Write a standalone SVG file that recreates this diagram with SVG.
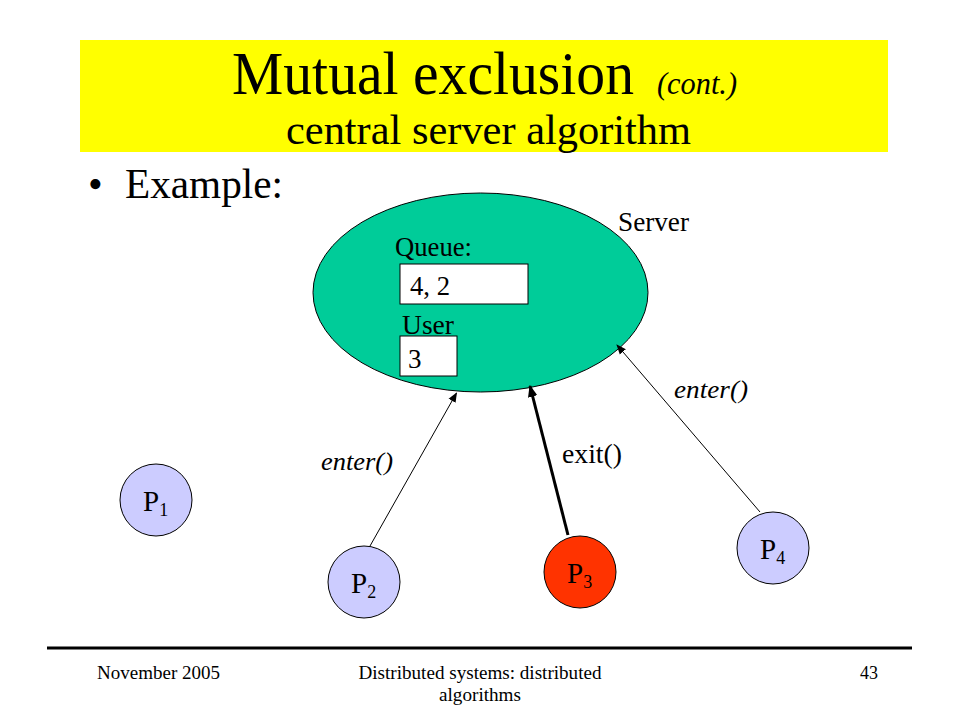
<svg xmlns="http://www.w3.org/2000/svg" width="960" height="720" viewBox="0 0 960 720">
<defs>
<style>
text{font-family:"Liberation Serif","Times New Roman",serif;fill:#000}
.it{font-style:italic}
.proc{fill:#CCCCFF;stroke:#000;stroke-width:1}
.box{fill:#fff;stroke:#000;stroke-width:1}
.thin{stroke:#000;stroke-width:1;fill:none}
.thick{stroke:#000;stroke-width:3;fill:none}
.pl{font-size:29px}
.sub{font-size:18px}
</style>
<marker id="ah" viewBox="0 0 10 10" refX="9" refY="5" markerWidth="10" markerHeight="10" markerUnits="userSpaceOnUse" orient="auto">
<path d="M0,1 L10,5 L0,9 z" fill="#000"/>
</marker>
<marker id="ahb" viewBox="0 0 10 10" refX="9" refY="5" markerWidth="12" markerHeight="12" markerUnits="userSpaceOnUse" orient="auto">
<path d="M0,1 L10,5 L0,9 z" fill="#000"/>
</marker>
</defs>
<rect width="960" height="720" fill="#fff"/>
<g id="title">
<rect x="80" y="40" width="808" height="112" fill="#FFFF00"/>
<text x="232" y="94" font-size="62" textLength="402" lengthAdjust="spacingAndGlyphs">Mutual exclusion</text>
<text x="657" y="94" font-size="31" class="it" textLength="80" lengthAdjust="spacingAndGlyphs">(cont.)</text>
<text x="286" y="144" font-size="42" textLength="405" lengthAdjust="spacingAndGlyphs">central server algorithm</text>
</g>
<g id="bullet">
<text x="88" y="198" font-size="42">•</text>
<text x="125" y="198" font-size="43" textLength="158" lengthAdjust="spacingAndGlyphs">Example:</text>
</g>
<g id="server">
<ellipse cx="480.5" cy="292.5" rx="167.5" ry="99.5" fill="#00CC99" stroke="#000" stroke-width="1"/>
<text x="618" y="231" font-size="27" textLength="71" lengthAdjust="spacingAndGlyphs">Server</text>
<text x="395" y="256" font-size="27" textLength="77" lengthAdjust="spacingAndGlyphs">Queue:</text>
<rect class="box" x="400" y="264" width="128" height="40"/>
<text x="410" y="295" font-size="27" textLength="40" lengthAdjust="spacingAndGlyphs">4, 2</text>
<text x="402" y="334" font-size="27" textLength="52" lengthAdjust="spacingAndGlyphs">User</text>
<rect class="box" x="400" y="336" width="57" height="40"/>
<text x="408" y="368" font-size="27">3</text>
</g>
<g id="connectors">
<line class="thin" x1="370" y1="546" x2="456.5" y2="393" marker-end="url(#ah)"/>
<line class="thick" x1="568" y1="535" x2="530" y2="386" marker-end="url(#ahb)"/>
<line class="thin" x1="760" y1="512" x2="617" y2="345" marker-end="url(#ah)"/>
<text x="321" y="470" font-size="26" class="it" textLength="72" lengthAdjust="spacingAndGlyphs">enter()</text>
<text x="562" y="463" font-size="27" textLength="60" lengthAdjust="spacingAndGlyphs">exit()</text>
<text x="674" y="398" font-size="26" class="it" textLength="74" lengthAdjust="spacingAndGlyphs">enter()</text>
</g>
<g id="p1">
<circle class="proc" cx="156" cy="500" r="36"/>
<text x="143" y="511" class="pl">P<tspan class="sub" dy="5">1</tspan></text>
</g>
<g id="p2">
<circle class="proc" cx="364" cy="582" r="36"/>
<text x="351" y="593" class="pl">P<tspan class="sub" dy="5">2</tspan></text>
</g>
<g id="p3">
<circle cx="580" cy="572" r="36" fill="#FF3300" stroke="#000" stroke-width="1"/>
<text x="567" y="583" class="pl">P<tspan class="sub" dy="5">3</tspan></text>
</g>
<g id="p4">
<circle class="proc" cx="773" cy="548" r="36"/>
<text x="760" y="559" class="pl">P<tspan class="sub" dy="5">4</tspan></text>
</g>
<g id="footer">
<line x1="47" y1="648" x2="912" y2="648" stroke="#000" stroke-width="3"/>
<text x="97" y="679" font-size="18" textLength="123" lengthAdjust="spacingAndGlyphs">November 2005</text>
<text x="480" y="679" font-size="18" text-anchor="middle" textLength="243" lengthAdjust="spacingAndGlyphs">Distributed systems: distributed</text>
<text x="480" y="701" font-size="18" text-anchor="middle" textLength="82" lengthAdjust="spacingAndGlyphs">algorithms</text>
<text x="860" y="679" font-size="18">43</text>
</g>
</svg>
